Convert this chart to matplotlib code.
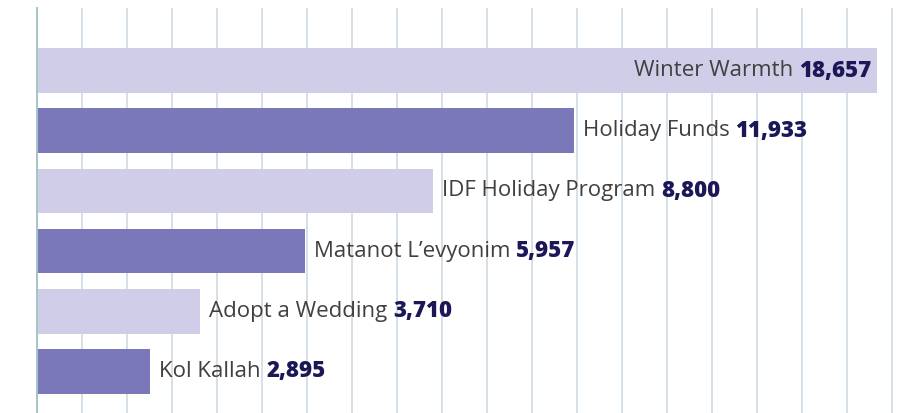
import matplotlib.pyplot as plt

plt.rcParams["font.family"] = ["Open Sans", "DejaVu Sans"]

programs = ["Winter Warmth", "Holiday Funds", "IDF Holiday Program",
            "Matanot L\u2019evyonim", "Adopt a Wedding", "Kol Kallah"]
amounts = [18657, 11933, 8800, 5957, 3710, 2895]
# bar lengths as drawn in the original (last two bars are shorter than their labels)
bar_lengths = [18657, 11933, 8800, 5957, 3630, 2510]
grid_ticks = list(range(0, 20000, 1000))

light = "#cfcde7"
dark = "#7b78b9"
colors = [light if i % 2 == 0 else dark for i in range(len(programs))]

fig = plt.figure(figsize=(9.23, 4.13), dpi=100)
ax = fig.add_axes([37 / 923, 0, (905 - 37) / 923, (413 - 8) / 413])

ypos = list(range(len(programs)))
ax.barh(ypos, bar_lengths, height=0.74, color=colors, zorder=2)

ax.set_xlim(0, 19290)
ax.set_ylim(5.69, -1.04)
ax.set_xticks(grid_ticks)
ax.set_yticks([])
ax.tick_params(axis="x", length=0, labelbottom=False)
ax.grid(axis="x", color="#d6e0e7", linewidth=1.4, zorder=0)
for s in ["top", "right", "bottom"]:
    ax.spines[s].set_visible(False)
ax.spines["left"].set_color("#a8c3c7")
ax.spines["left"].set_linewidth(1.4)

fs = 16
name_color = "#404040"
num_color = "#1c1858"
for y, name, val, length in zip(ypos, programs, amounts, bar_lengths):
    num = f"{val:,}"
    if length == max(bar_lengths):
        t = ax.annotate(num, xy=(length, y), xytext=(-4, 0), textcoords="offset points",
                        ha="right", va="center", fontsize=fs, fontweight="heavy",
                        color=num_color, zorder=3)
        ax.annotate(name, xy=(0, y), xycoords=(t, "data"), xytext=(-4, 0),
                    textcoords="offset points", ha="right", va="center",
                    fontsize=fs, color=name_color, zorder=3)
    else:
        t = ax.annotate(name, xy=(length, y), xytext=(6.5, 0), textcoords="offset points",
                        ha="left", va="center", fontsize=fs, color=name_color, zorder=3)
        ax.annotate(num, xy=(1, y), xycoords=(t, "data"), xytext=(4, 0),
                    textcoords="offset points", ha="left", va="center",
                    fontsize=fs, fontweight="heavy", color=num_color, zorder=3)

fig.savefig("out.png", dpi=100)
